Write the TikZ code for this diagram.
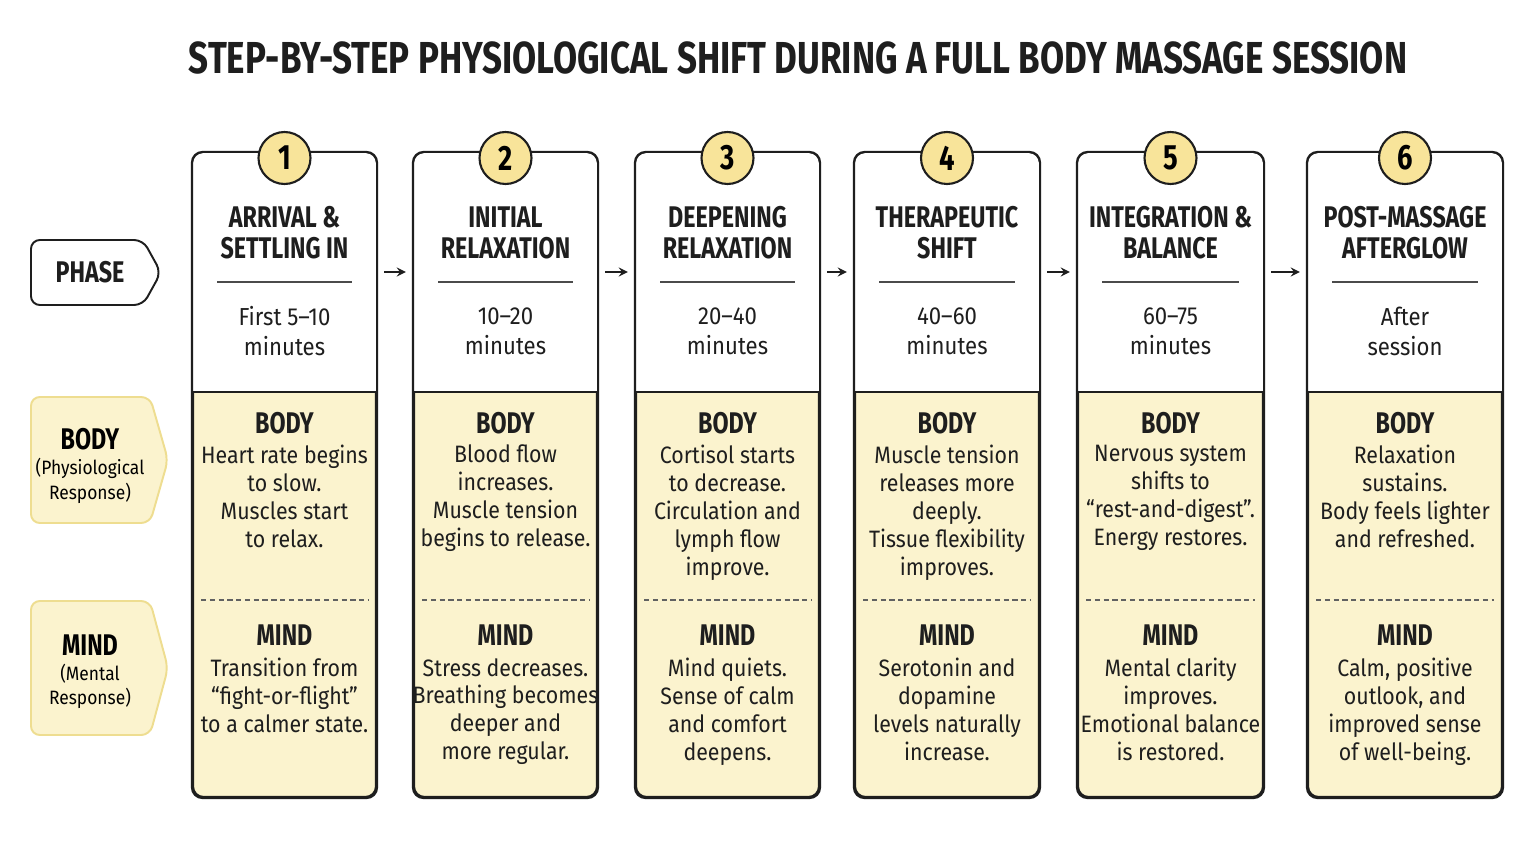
\documentclass[tikz,border=0pt]{standalone}
\usepackage{fontspec}
\setmainfont{Fira Sans}
\newfontfamily\condfont[FakeStretch=0.78]{Fira Sans}
\newfontfamily\plainfont[FakeStretch=0.9]{Fira Sans}
\definecolor{cream}{HTML}{FBF3CE}
\definecolor{badge}{HTML}{F8E49A}
\definecolor{tabline}{HTML}{EEDD90}
\definecolor{ink}{HTML}{1E1E1E}
\tikzset{
    column/.style={draw=ink,line width=1.2pt,fill=cream,rounded corners=6pt,inner sep=0pt},
    numbadge/.style={circle,draw=ink,line width=1.2pt,fill=badge,minimum size=1.04cm,inner sep=0pt,
        font=\condfont\bfseries\fontsize{20}{20}\selectfont},
    head/.style={align=center,font=\condfont\bfseries\fontsize{17}{17.6}\selectfont,text=ink},
    when/.style={align=center,font=\plainfont\fontsize{14}{17}\selectfont,text=ink},
    body/.style={align=center,anchor=north,font=\plainfont\fontsize{13.5}{15.9}\selectfont,text=ink},
    arr/.style={->,>=stealth,line width=1.3pt,draw=ink,shorten <=4pt,shorten >=4pt},
}
\newcommand\SideTab[5]{% top, bottom, tip x, fill, draw
    \filldraw[fill=#4,draw=#5,line width=1.1pt,rounded corners=5pt]
        (31,#1) -- (#3-18,#1) -- (#3,{(#1+#2)/2}) -- (#3-18,#2) -- (31,#2) -- cycle;
}
\begin{document}
\begin{tikzpicture}[x=0.02cm,y=-0.02cm]
    \useasboundingbox[fill=white] (0,0) rectangle (1535,841);
    \node[font=\condfont\bfseries\fontsize{25.5}{26}\selectfont,text=ink] (title) at (798,58)
        {STEP-BY-STEP PHYSIOLOGICAL SHIFT DURING A FULL BODY MASSAGE SESSION};
    % row labels
    \SideTab{240}{305}{161}{white}{ink}
    \node[head] (phase) at (90,272) {PHASE};
    \SideTab{397}{523}{168}{cream}{tabline}
    \node[align=center,font=\plainfont\fontsize{11}{14}\selectfont] (bodytab) at (90,466)
        {{\condfont\bfseries\fontsize{17}{20}\selectfont BODY}\\(Physiological\\Response)};
    \SideTab{601}{735}{168}{cream}{tabline}
    \node[align=center,font=\plainfont\fontsize{11}{14}\selectfont] (mindtab) at (90,672)
        {{\condfont\bfseries\fontsize{17}{20}\selectfont MIND}\\(Mental\\Response)};
    % columns
    \foreach \n/\xl/\xr/\ttl/\tim/\bod/\mnd in {
        1/193/376/{ARRIVAL \&\\SETTLING IN}/{First 5–10\\minutes}/{Heart rate begins\\to slow.\\Muscles start\\to relax.}/{Transition from\\“fight-or-flight”\\to a calmer state.},
        2/414/597/{INITIAL\\RELAXATION}/{10–20\\minutes}/{Blood flow\\increases.\\Muscle tension\\begins to release.}/{Stress decreases.\\Breathing becomes\\deeper and\\more regular.},
        3/636/819/{DEEPENING\\RELAXATION}/{20–40\\minutes}/{Cortisol starts\\to decrease.\\Circulation and\\lymph flow\\improve.}/{Mind quiets.\\Sense of calm\\and comfort\\deepens.},
        4/855/1039/{THERAPEUTIC\\SHIFT}/{40–60\\minutes}/{Muscle tension\\releases more\\deeply.\\Tissue flexibility\\improves.}/{Serotonin and\\dopamine\\levels naturally\\increase.},
        5/1078/1263/{INTEGRATION \&\\BALANCE}/{60–75\\minutes}/{Nervous system\\shifts to\\“rest-and-digest”.\\Energy restores.}/{Mental clarity\\improves.\\Emotional balance\\is restored.},
        6/1308/1502/{POST-MASSAGE\\AFTERGLOW}/{After\\session}/{Relaxation\\sustains.\\Body feels lighter\\and refreshed.}/{Calm, positive\\outlook, and\\improved sense\\of well-being.}} {
        \pgfmathsetmacro\xm{(\xl+\xr)/2}
        \node[column,minimum width={(\xr-\xl)*0.02cm},minimum height={644*0.02cm}] (col\n) at (\xm,475) {};
        \fill[white,rounded corners=6pt] (\xl,392) [sharp corners] -- (\xl,300) [rounded corners=6pt] |- (\xm,153) -| (\xr,300) [sharp corners] -- (\xr,392) -- cycle;
        \draw[ink,line width=1.2pt,rounded corners=6pt] (col\n.south west) rectangle (col\n.north east);
        \draw[ink,line width=1.2pt] (\xl,392) -- (\xr,392);
        \draw[ink!80,line width=0.8pt] (\xl+24,282) -- (\xr-24,282);
        \draw[ink!70,line width=0.7pt,dash pattern=on 3pt off 2pt] (\xl+8,600) -- (\xr-8,600);
        \node[numbadge] (num\n) at (\xm,158) {\n};
        \node[head] (ttl\n) at (\xm,233) {\ttl};
        \node[when] (tim\n) at (\xm,331) {\tim};
        \node[head] (bh\n) at (\xm,423) {BODY};
        \node[body] (bt\n) at (\xm,439) {\bod};
        \node[head] (mh\n) at (\xm,635) {MIND};
        \node[body] (mt\n) at (\xm,652) {\mnd};
    }
    \foreach \a/\b in {1/2,2/3,3/4,4/5,5/6}
        \draw[arr] (col\a.east |- phase) -- (col\b.west |- phase);
\end{tikzpicture}
\end{document}
